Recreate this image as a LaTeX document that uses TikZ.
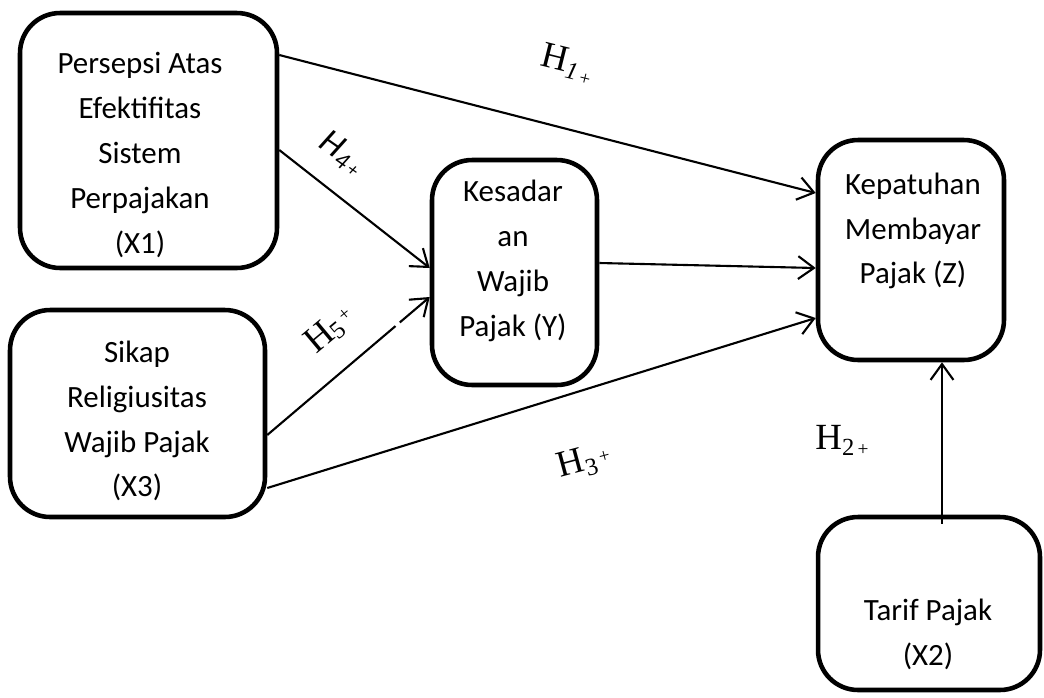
\documentclass[tikz,border=0pt]{standalone}
\usepackage{fontspec}
\setmainfont{Carlito}
\newfontfamily\serifH{Liberation Serif}
\usetikzlibrary{arrows.meta,calc}
\begin{document}
\begin{tikzpicture}[x=0.02cm,y=-0.02cm,
  box/.style={draw,line width=2.6pt,rounded corners=0.8cm,inner sep=0pt},
  txt/.style={align=center,font=\fontsize{17.6}{25.5}\selectfont,inner sep=0pt},
  conn/.style={line width=1.2pt,-{Straight Barb[length=9pt,width=13pt,line width=1.2pt]}},
  hlab/.style={inner sep=1pt,font=\serifH\fontsize{21}{21}\selectfont}]
\useasboundingbox (0,0) rectangle (1044,697);
% boxes
\node[box,minimum width=5.14cm,minimum height=5.1cm] (x1) at (148.5,140.5) {};
\node[box,minimum width=5.1cm,minimum height=4.14cm] (x3) at (137.5,413.5) {};
\node[box,minimum width=3.3cm,minimum height=4.5cm] (y) at (514.5,272.5) {};
\node[box,minimum width=3.72cm,minimum height=4.4cm] (z) at (911,250) {};
\node[box,minimum width=4.44cm,minimum height=3.46cm] (x2) at (929,603.5) {};
% texts
\node[txt] (x1t) at (140,155) {Persepsi Atas\\Efektifitas\\Sistem\\Perpajakan\\(X1)};
\node[txt] (x3t) at (137,421) {Sikap\\Religiusitas\\Wajib Pajak\\(X3)};
\node[txt] (yt) at (513,261) {Kesadar\\an\\Wajib\\Pajak (Y)};
\node[txt] (zt) at (913,231) {Kepatuhan\\Membayar\\Pajak (Z)};
\node[txt] (x2t) at (928,634) {Tarif Pajak\\(X2)};
% connectors
\coordinate (a1) at (x1.east |- 0,55);
\coordinate (b1) at (z.west |- 0,193);
\draw[conn] (a1) -- (b1);
\coordinate (a4) at (x1.east |- 0,150);
\coordinate (b4) at (y.west |- 0,268);
\draw[conn] (a4) -- (b4);
\coordinate (ay) at (y.east |- 0,263);
\coordinate (by) at (z.west |- 0,268);
\draw[conn] (ay) -- (by);
\coordinate (a5) at (x3.east |- 0,435);
\coordinate (b5) at (y.west |- 0,297);
\draw[conn] (a5) -- (b5);
\draw[white,line width=3pt] ($(a5)!0.79!(b5)$) -- ($(a5)!0.815!(b5)$);
\coordinate (a3) at (x3.east |- 0,488);
\coordinate (b3) at (z.west |- 0,318);
\draw[conn] (a3) -- (b3);
\coordinate (a2) at ([yshift=-5pt]x2.north -| 942,0);
\coordinate (b2) at (z.south -| 942,0);
\draw[conn] (a2) -- (b2);
% labels
\node[hlab,rotate=-14] (h1) at (567,64) {H\raisebox{-0.35ex}{\fontsize{14}{14}\selectfont\itshape 1}\raisebox{-0.5ex}{\fontsize{11}{11}\selectfont\,+}};
\node[hlab,rotate=-35,font=\fontsize{20}{20}\selectfont\itshape] (h4) at (342,153) {H\raisebox{-0.35ex}{\fontsize{14}{14}\selectfont 4}\raisebox{-0.35ex}{\fontsize{11}{11}\selectfont\,+}};
\node[hlab,rotate=40] (h5) at (330,330) {H\raisebox{-0.2ex}{\fontsize{14}{14}\selectfont 5}\raisebox{0.4ex}{\fontsize{11}{11}\selectfont\,+}};
\node[hlab,rotate=15] (h3) at (584,462) {H\raisebox{-0.35ex}{\fontsize{14}{14}\selectfont 3}\raisebox{0.2ex}{\fontsize{11}{11}\selectfont\,+}};
\node[hlab] (h2) at (842,440) {H\raisebox{-0.35ex}{\fontsize{14}{14}\selectfont 2}\raisebox{-0.35ex}{\fontsize{11}{11}\selectfont\,+}};
\end{tikzpicture}
\end{document}
